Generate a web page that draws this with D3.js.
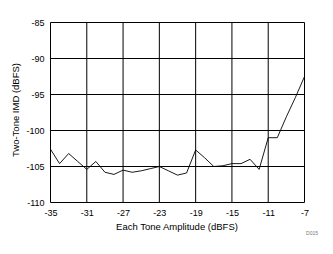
<!DOCTYPE html>
<html><head><meta charset="utf-8">
<script src="https://cdn.jsdelivr.net/npm/d3@7/dist/d3.min.js"></script>
<style>
html,body{margin:0;padding:0;background:#fff;}
svg{display:block;}
text{font-family:Arial,"Liberation Sans",sans-serif;fill:#000;}
</style></head>
<body>
<script>
const amplitude = [-35,-34,-33,-32,-31,-30,-29,-28,-27,-26,-25,-24,-23,-22,-21,-20,-19,-18,-17,-16,-15,-14,-13,-12,-11,-10,-9,-8,-7];
const imd = [-102.6,-104.6,-103.2,-104.3,-105.4,-104.3,-105.8,-106.1,-105.5,-105.8,-105.6,-105.3,-105.0,-105.6,-106.2,-105.9,-102.7,-103.8,-105.0,-104.9,-104.6,-104.6,-104.0,-105.4,-101.0,-101.0,-98.1,-95.4,-92.5];
const xTicks = [-35,-31,-27,-23,-19,-15,-11,-7];
const yTicks = [-110,-105,-100,-95,-90,-85];

const W = 333, H = 254;
const svg = d3.select("body").append("svg").attr("width", W).attr("height", H);
const x = d3.scaleLinear().domain([-35,-7]).range([50.5, 304.5]);
const y = d3.scaleLinear().domain([-110,-85]).range([202.5, 22.5]);
const fmt = d => String(d);

// grid
svg.append("g").selectAll("line.v").data(xTicks).join("line")
  .attr("x1", d => x(d)).attr("x2", d => x(d)).attr("y1", y(-85)).attr("y2", y(-110))
  .attr("stroke", "#000").attr("stroke-width", 1);
svg.append("g").selectAll("line.h").data(yTicks).join("line")
  .attr("y1", d => y(d)).attr("y2", d => y(d)).attr("x1", x(-35)).attr("x2", x(-7))
  .attr("stroke", "#000").attr("stroke-width", 1);

// axes labels via d3 axes
const xAxis = svg.append("g").attr("transform", `translate(0,${y(-110)})`)
  .call(d3.axisBottom(x).tickValues(xTicks).tickSize(0).tickPadding(7).tickFormat(fmt));
xAxis.select(".domain").remove();
xAxis.selectAll("text").attr("font-size", 9).attr("font-family", "Arial, 'Liberation Sans', sans-serif");

const yAxis = svg.append("g").attr("transform", `translate(${x(-35)},0)`)
  .call(d3.axisLeft(y).tickValues(yTicks).tickSize(0).tickPadding(6).tickFormat(fmt));
yAxis.select(".domain").remove();
yAxis.selectAll("text").attr("font-size", 9).attr("font-family", "Arial, 'Liberation Sans', sans-serif");

// data line
const line = d3.line().x((d,i) => x(amplitude[i])).y(d => y(d));
svg.append("path").datum(imd).attr("d", line)
  .attr("fill", "none").attr("stroke", "#000").attr("stroke-width", 0.9);

// titles
svg.append("text").attr("x", 177).attr("y", 230).attr("text-anchor", "middle")
  .attr("font-size", 9.5).text("Each Tone Amplitude (dBFS)");
svg.append("text").attr("transform", "translate(19,110) rotate(-90)").attr("text-anchor", "middle")
  .attr("font-size", 9.5).text("Two-Tone IMD (dBFS)");
svg.append("text").attr("x", 318).attr("y", 234.5).attr("text-anchor", "end")
  .attr("font-size", 5).attr("fill", "#777").style("fill", "#777").text("D015");
</script>
</body></html>
